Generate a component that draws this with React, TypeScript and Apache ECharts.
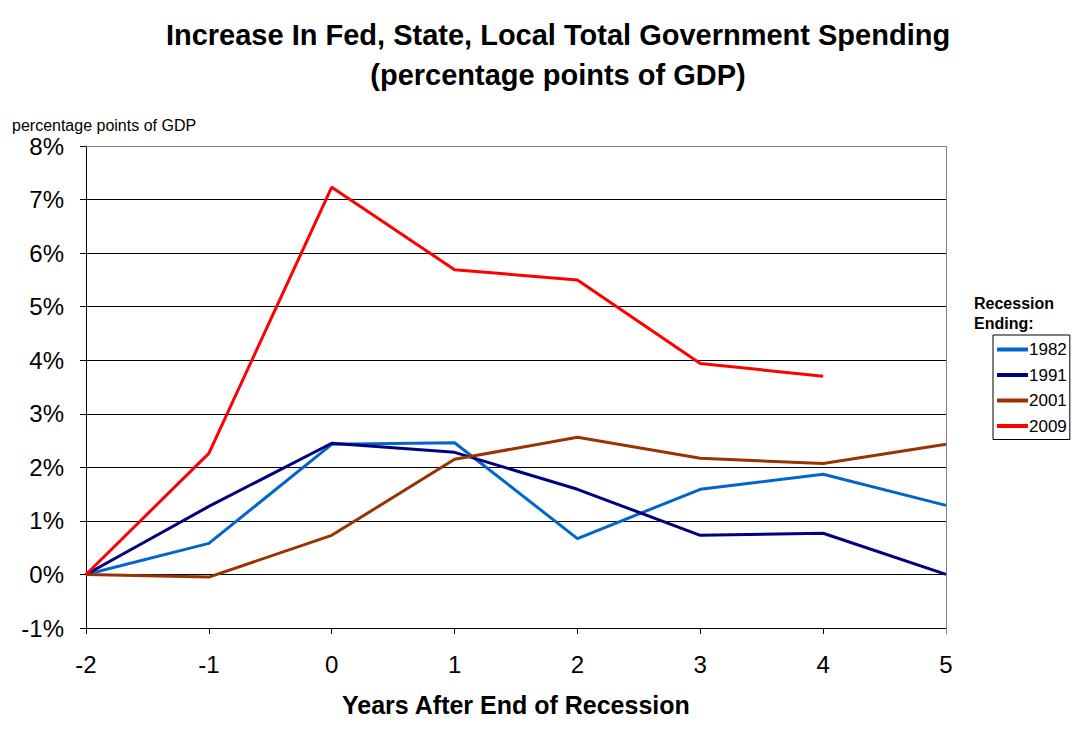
import React, { useEffect, useRef } from "react";
import * as echarts from "echarts";

const years = [-2, -1, 0, 1, 2, 3, 4, 5];
const seriesNames = ["1982", "1991", "2001", "2009"];
const s1982 = [0, 0.58, 2.43, 2.46, 0.67, 1.59, 1.87, 1.29];
const s1991 = [0, 1.27, 2.45, 2.28, 1.59, 0.73, 0.77, 0];
const s2001 = [0, -0.05, 0.73, 2.15, 2.56, 2.17, 2.07, 2.43];
const s2009 = [0, 2.26, 7.23, 5.69, 5.5, 3.94, 3.7];
const colors = ["#0066CC", "#000080", "#993300", "#FF0000"];
const yTicks = [-1, 0, 1, 2, 3, 4, 5, 6, 7, 8];

const FONT = "Arial, 'Liberation Sans', sans-serif";

export default function App() {
  const ref = useRef<HTMLDivElement>(null);
  useEffect(() => {
    document.body.style.margin = "0";
    const chart = echarts.init(ref.current!, null, { renderer: "svg" });
    const allData = [s1982, s1991, s2001, s2009];
    const L = 86, T = 146, W = 860, H = 482;
    chart.setOption({
      animation: false,
      backgroundColor: "#ffffff",
      textStyle: { fontFamily: FONT },
      title: {
        text: "Increase In Fed, State, Local Total Government Spending\n(percentage points of GDP)",
        left: 553,
        top: 10,
        textAlign: "center",
        textStyle: { fontFamily: FONT, fontSize: 29, fontWeight: "bold", color: "#000", lineHeight: 40 },
      },
      grid: { left: L, top: T, width: W, height: H, containLabel: false },
      xAxis: {
        type: "value",
        min: -2,
        max: 5,
        interval: 1,
        axisLine: { show: true, onZero: false, lineStyle: { color: "#000", width: 1 } },
        axisTick: { show: true, inside: false, length: 6, lineStyle: { color: "#000" } },
        axisLabel: { fontSize: 24, color: "#000", fontFamily: FONT, margin: 24 },
        splitLine: { show: false },
      },
      yAxis: {
        type: "value",
        min: yTicks[0],
        max: yTicks[yTicks.length - 1],
        interval: 1,
        axisLine: { show: true, onZero: false, lineStyle: { color: "#000", width: 1 } },
        axisTick: { show: true, inside: false, length: 6, lineStyle: { color: "#000" } },
        axisLabel: { fontSize: 24, color: "#000", fontFamily: FONT, margin: 22, formatter: "{value}%" },
        splitLine: { show: true, lineStyle: { color: "#000", width: 1 } },
      },
      legend: {
        orient: "vertical",
        left: 993,
        top: 335,
        data: seriesNames,
        icon: "rect",
        itemWidth: 31,
        itemHeight: 4,
        itemGap: 8.5,
        padding: [6, 3, 5, 4],
        borderColor: "#000",
        borderWidth: 1,
        textStyle: { fontSize: 17, color: "#000", fontFamily: FONT, padding: [0, 0, 0, -4] },
      },
      series: allData.map((d, i) => ({
        name: seriesNames[i],
        type: "line",
        data: d.map((v, j) => [years[j], v]),
        showSymbol: false,
        symbol: "none",
        color: colors[i],
        lineStyle: { color: colors[i], width: 3 },
        z: 3 + i,
      })),
      graphic: [
        { type: "line", z: 10, shape: { x1: L, y1: T + 0.5, x2: L + W, y2: T + 0.5 }, style: { stroke: "#808080", lineWidth: 1 } },
        { type: "line", z: 10, shape: { x1: L + W + 0.5, y1: T, x2: L + W + 0.5, y2: T + H + 6 }, style: { stroke: "#808080", lineWidth: 1 } },
        {
          type: "text",
          left: 12,
          top: 117,
          style: { text: "percentage points of GDP", font: `16px ${FONT}`, fill: "#000" },
        },
        {
          type: "text",
          left: 342,
          top: 692,
          style: { text: "Years After End of Recession", font: `bold 25px ${FONT}`, fill: "#000" },
        },
        {
          type: "text",
          left: 974,
          top: 293,
          style: { text: "Recession\nEnding:", font: `bold 16px ${FONT}`, fill: "#000", lineHeight: 20 },
        },
      ],
    });
    return () => chart.dispose();
  }, []);
  return <div ref={ref} style={{ position: "absolute", left: 0, top: 0, width: 1081, height: 732 }} />;
}
